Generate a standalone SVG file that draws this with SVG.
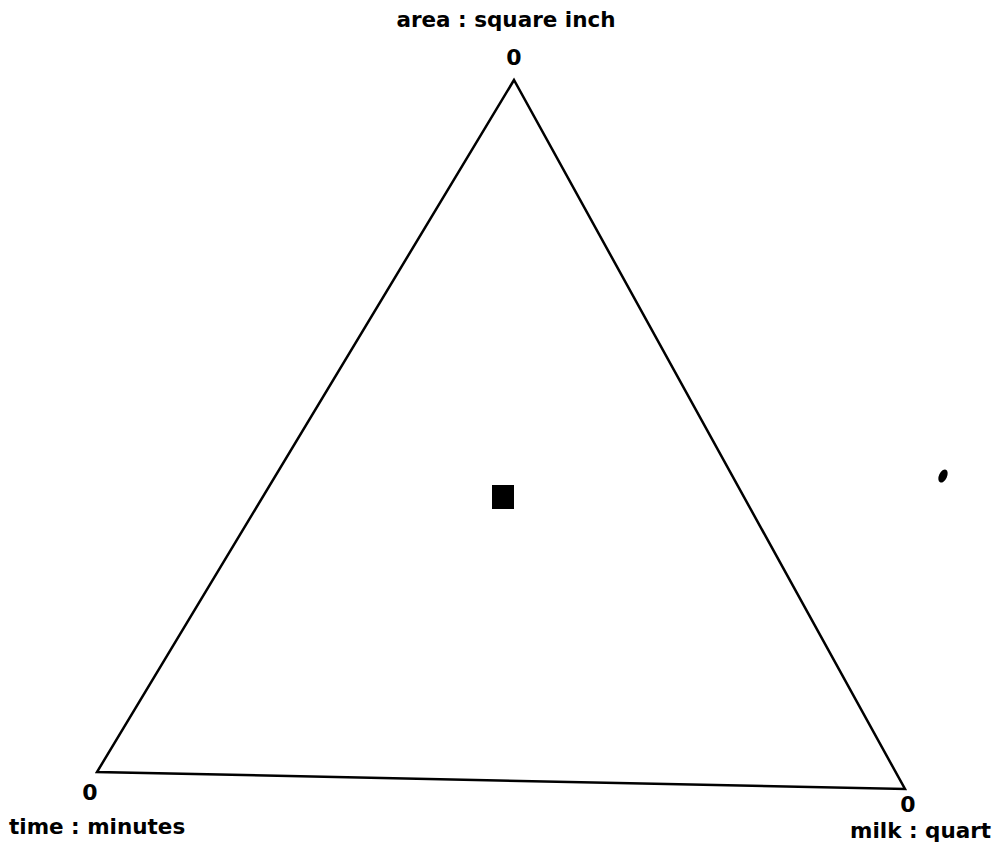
<svg xmlns="http://www.w3.org/2000/svg" width="1001" height="855" viewBox="0 0 1001 855">
<style>
.lbl{font-family:"DejaVu Sans","Liberation Sans",sans-serif;font-weight:bold;font-size:21.5px;fill:#000}
.zero{font-family:"DejaVu Sans","Liberation Sans",sans-serif;font-weight:bold;font-size:22px;fill:#000;text-anchor:middle}
.edge{fill:none;stroke:#000;stroke-width:2.5;stroke-linejoin:miter}
</style>
<rect width="1001" height="855" fill="#fff"/>
<g id="connectors">
<polygon class="edge" points="514,80 97,772 905,789"/>
</g>
<g id="apex-top">
<text class="lbl" x="506" y="27" text-anchor="middle">area : square  inch</text>
<text class="zero" x="514" y="65">0</text>
</g>
<g id="apex-left">
<text class="zero" x="90" y="800">0</text>
<text class="lbl" x="9" y="834">time : minutes</text>
</g>
<g id="apex-right">
<text class="zero" x="908" y="812">0</text>
<text class="lbl" x="850" y="838">milk : quart</text>
</g>
<g id="point">
<rect x="492" y="485" width="22" height="24" fill="#000"/>
</g>
<g id="speck">
<ellipse cx="943" cy="476" rx="4" ry="7" transform="rotate(25 943 476)" fill="#000"/>
</g>
</svg>
